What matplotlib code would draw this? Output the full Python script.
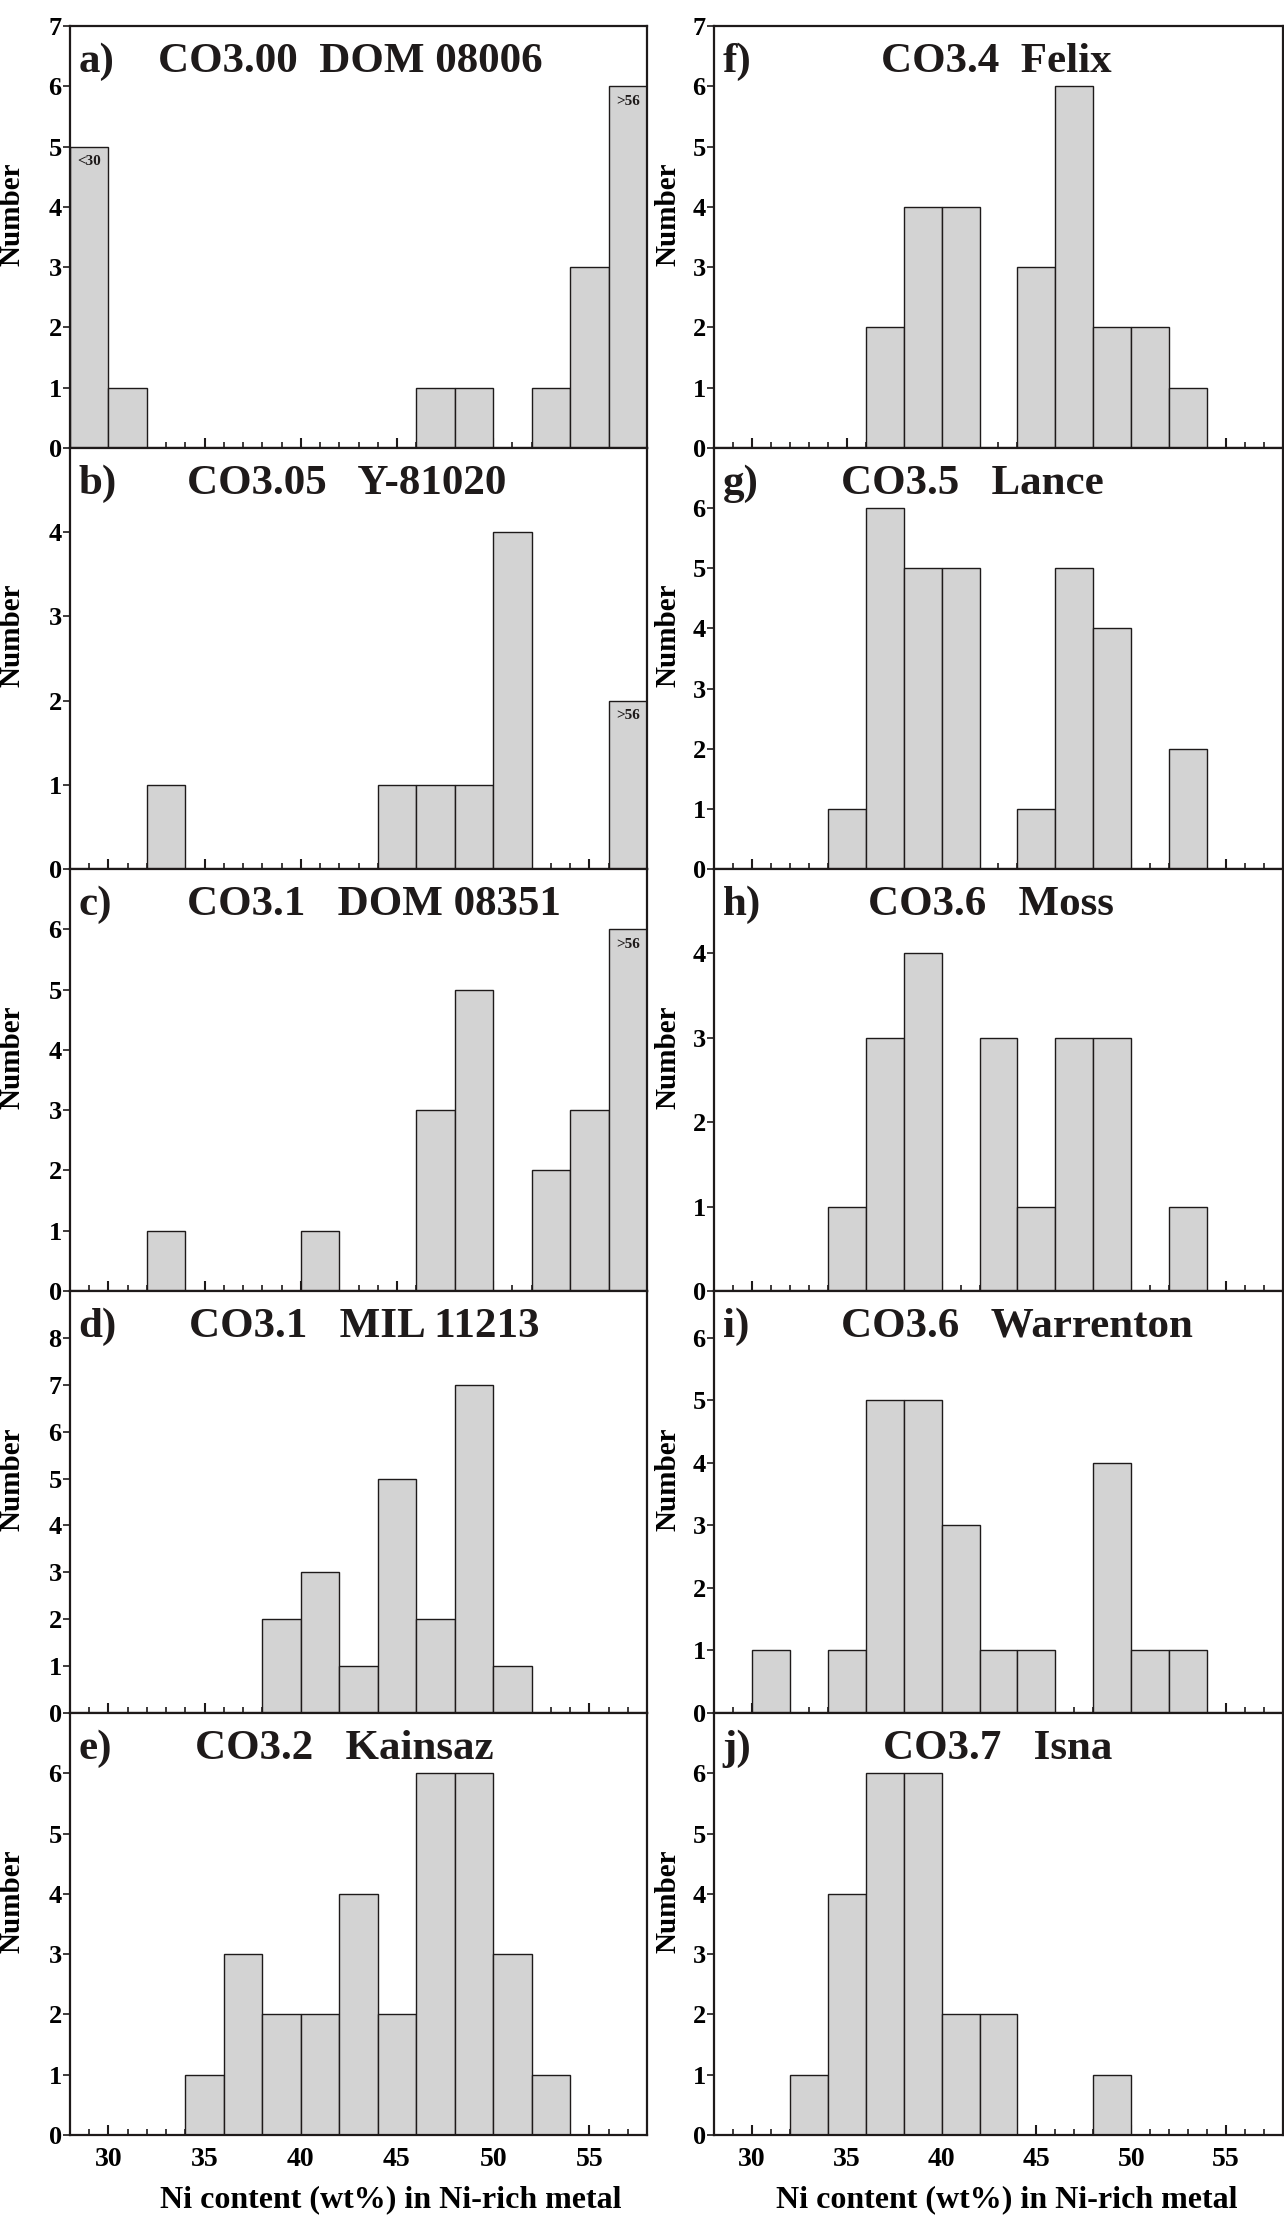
import numpy as np
import matplotlib.pyplot as plt
from matplotlib.ticker import MultipleLocator

# Ni content bins (wt%), 2 wt% wide; first bin is <30, last is >56
bin_left = np.arange(28, 58, 2)

# counts per bin for each meteorite
a_counts = [5, 1, 0, 0, 0, 0, 0, 0, 0, 1, 1, 0, 1, 3, 6]
b_counts = [0, 0, 1, 0, 0, 0, 0, 0, 1, 1, 1, 4, 0, 0, 2]
c_counts = [0, 0, 1, 0, 0, 0, 1, 0, 0, 3, 5, 0, 2, 3, 6]
d_counts = [0, 0, 0, 0, 0, 2, 3, 1, 5, 2, 7, 1, 0, 0, 0]
e_counts = [0, 0, 0, 1, 3, 2, 2, 4, 2, 6, 6, 3, 1, 0, 0]
f_counts = [0, 0, 0, 0, 2, 4, 4, 0, 3, 6, 2, 2, 1, 0, 0]
g_counts = [0, 0, 0, 1, 6, 5, 5, 0, 1, 5, 4, 0, 2, 0, 0]
h_counts = [0, 0, 0, 1, 3, 4, 0, 3, 1, 3, 3, 0, 1, 0, 0]
i_counts = [0, 1, 0, 1, 5, 5, 3, 1, 1, 0, 4, 1, 1, 0, 0]
j_counts = [0, 0, 1, 4, 6, 6, 2, 2, 0, 0, 1, 0, 0, 0, 0]

letters = ['a)', 'b)', 'c)', 'd)', 'e)', 'f)', 'g)', 'h)', 'i)', 'j)']
names = ['CO3.00  DOM 08006', 'CO3.05   Y-81020', 'CO3.1   DOM 08351',
         'CO3.1   MIL 11213', 'CO3.2   Kainsaz', 'CO3.4  Felix',
         'CO3.5   Lance', 'CO3.6   Moss', 'CO3.6   Warrenton', 'CO3.7   Isna']
all_counts = [a_counts, b_counts, c_counts, d_counts, e_counts,
              f_counts, g_counts, h_counts, i_counts, j_counts]

# y range and highest labelled tick per panel
ymax = [7, 5, 7, 9, 7, 7, 7, 5, 6.75, 7]
ytop = [7, 4, 6, 8, 6, 7, 6, 4, 6, 6]
# where the title starts (wt%)
title_x = [32.6, 34.1, 34.1, 34.2, 34.5, 36.8, 34.7, 36.1, 34.7, 36.9]
# open-ended bins marked on the bars
notes = {0: [(0, '<30'), (14, '>56')], 1: [(14, '>56')], 2: [(14, '>56')]}

xticks = [30, 35, 40, 45, 50, 55]
xlabel = 'Ni content (wt%) in Ni-rich metal'

plt.rcParams['font.family'] = ['Liberation Serif', 'DejaVu Serif']
plt.rcParams['font.weight'] = 'bold'

W, H = 1284, 2215
fig = plt.figure(figsize=(W / 100, H / 100), dpi=100)

# panel edges in pixels (five equal rows, two columns)
rows_px = [26, 448, 869, 1291, 1713, 2135]
cols_px = [(70, 647), (714, 1283)]
ylab_x = [-0.10, -0.081]
xlab_x = [0.556, 0.514]
ink = '#1e1a1a'

for k in range(10):
    col = k // 5
    row = k % 5
    x0, x1 = cols_px[col]
    y0, y1 = rows_px[row], rows_px[row + 1]
    ax = fig.add_axes([x0 / W, 1 - y1 / H, (x1 - x0) / W, (y1 - y0) / H])

    counts = np.array(all_counts[k])
    keep = counts > 0
    ax.bar(bin_left[keep], counts[keep], width=2, align='edge',
           color='#d3d3d3', edgecolor=ink, linewidth=1.0, zorder=2)

    for idx, txt in notes.get(k, []):
        ax.annotate(txt, (bin_left[idx] + 1, counts[idx]), xytext=(0, -6),
                    textcoords='offset points', ha='center', va='top',
                    fontsize=11, fontweight='bold', color=ink, zorder=3)

    ax.set_xlim(28, 58)
    ax.set_ylim(0, ymax[k])
    ax.set_yticks(range(0, ytop[k] + 1))
    ax.set_xticks(xticks)
    ax.xaxis.set_minor_locator(MultipleLocator(1))
    ax.tick_params(axis='x', which='major', direction='in', length=7,
                   width=1.5, color=ink, labelsize=20, pad=9)
    ax.tick_params(axis='x', which='minor', direction='in', length=4,
                   width=1.2, color=ink)
    ax.tick_params(axis='y', direction='out', length=5, width=1.2,
                   color=ink, labelsize=19, pad=1)
    for lab in ax.get_xticklabels() + ax.get_yticklabels():
        lab.set_fontweight('bold')
    if row < 4:
        ax.tick_params(axis='x', labelbottom=False)
    else:
        ax.set_xlabel(xlabel, fontsize=23, fontweight='bold', va='center')
        ax.xaxis.set_label_coords(xlab_x[col], -0.154)

    for sp in ax.spines.values():
        sp.set_linewidth(1.6)
        sp.set_color(ink)

    ax.set_ylabel('Number', fontsize=21, fontweight='bold', va='center')
    ax.yaxis.set_label_coords(ylab_x[col], 0.555)

    ax.text(28.45, 0.915, letters[k], transform=ax.get_xaxis_transform(),
            fontsize=31, fontweight='bold', va='center', ha='left', color=ink)
    ax.text(title_x[k], 0.915, names[k], transform=ax.get_xaxis_transform(),
            fontsize=31, fontweight='bold', va='center', ha='left', color=ink)

fig.savefig('out.png', dpi=100)
